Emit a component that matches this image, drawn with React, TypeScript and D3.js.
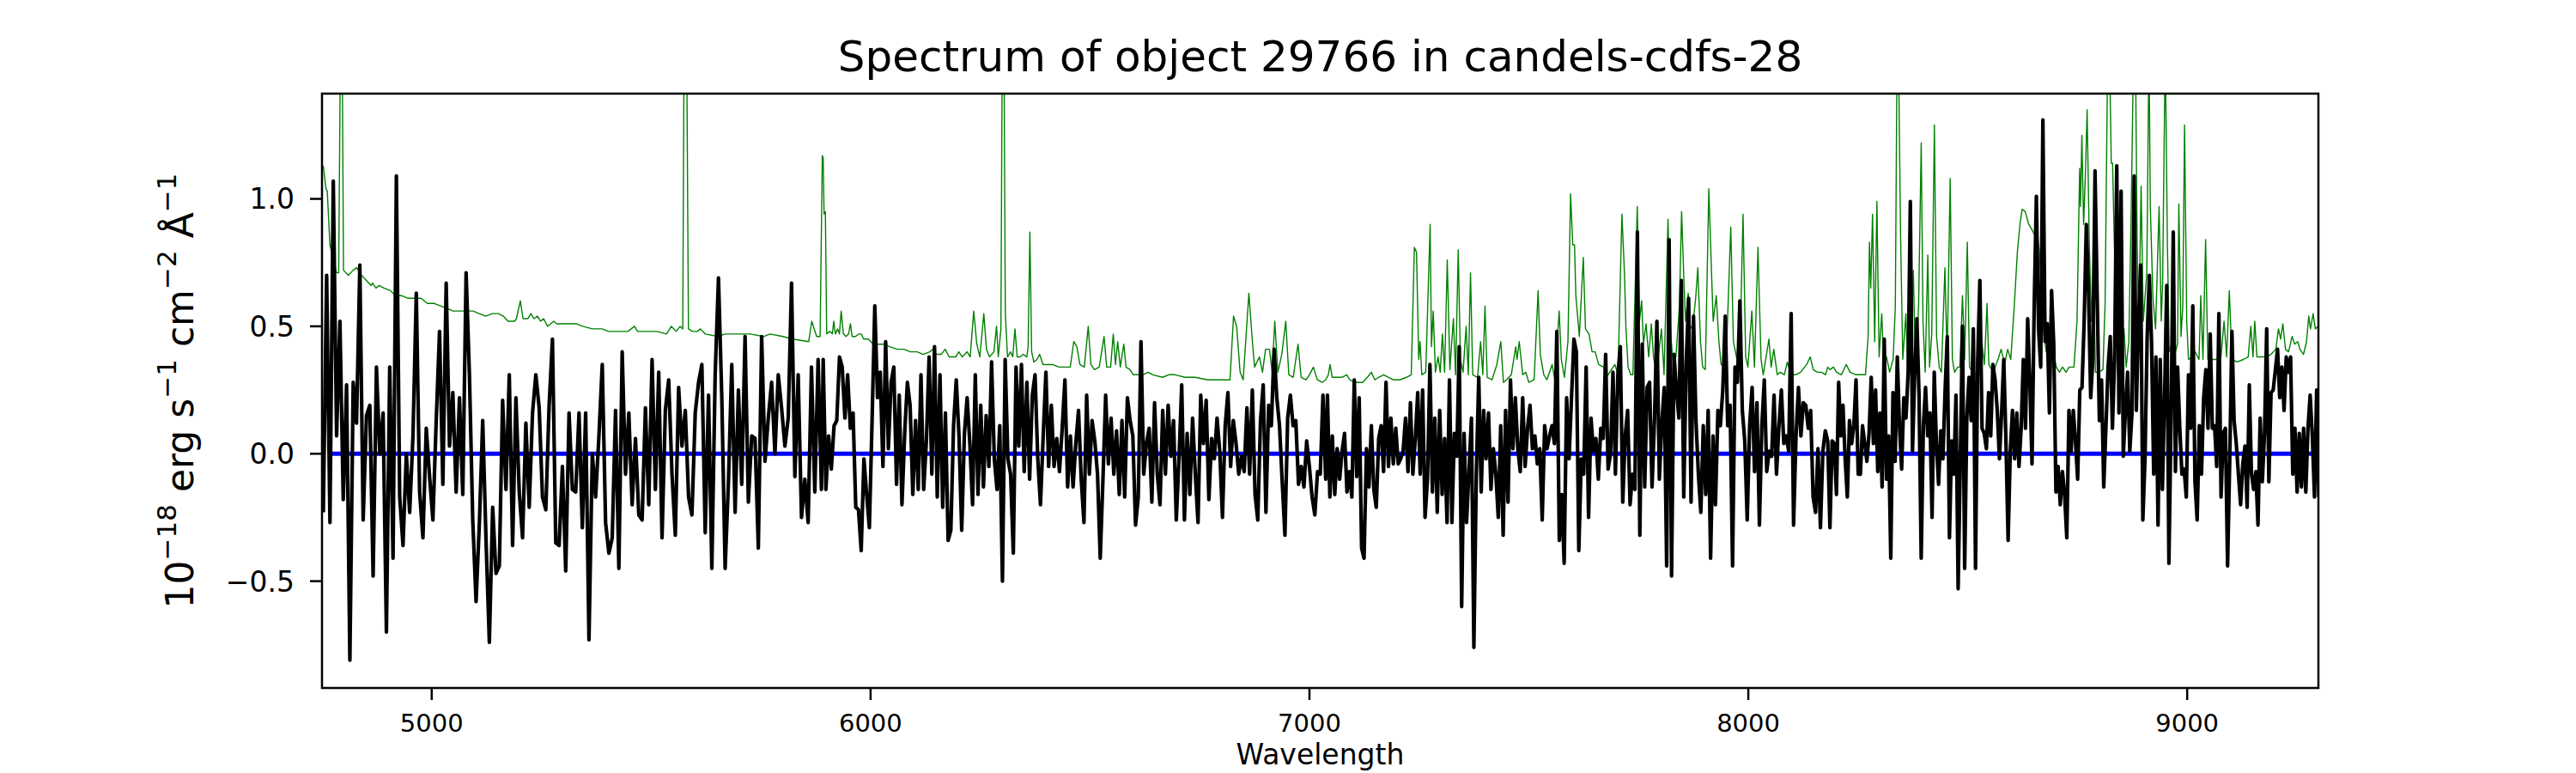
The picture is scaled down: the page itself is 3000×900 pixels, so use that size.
import React from 'react';
import * as d3 from 'd3';

// axis ticks
const wavelengthTicks = [5000, 6000, 7000, 8000, 9000];
const fluxTicks = [-0.5, 0.0, 0.5, 1.0];

const fluxSeg1Range = [4753, 5888];
const fluxSeg1 = [
  -0.23, 0.70, -0.27, 1.07, 0.07, 0.52, -0.18, 0.27, -0.81, 0.28, 0.12, 0.74, -0.26, 0.15, 0.19, -0.48, 0.34, 0.00, 0.16, -0.70,
  0.34, -0.41, 1.09, -0.17, -0.36, 0.00, -0.23, 0.07, 0.63, -0.15, -0.33, 0.10, -0.09, -0.26, 0.13, 0.48, -0.12, 0.67, 0.03, 0.24,
  -0.15, 0.22, -0.16, 0.71, 0.31, -0.26, -0.58, -0.27, 0.13, -0.34, -0.74, -0.21, -0.47, -0.44, 0.21, -0.14, 0.31, -0.36, 0.22, -0.15,
  -0.33, 0.12, -0.21, 0.16, 0.31, 0.18, -0.17, -0.22, 0.19, 0.45, -0.35, -0.36, -0.05, -0.46, 0.16, -0.14, -0.15, 0.16, -0.29, 0.16,
  -0.73, 0.00, -0.17, 0.07, 0.35, -0.27, -0.39, -0.33, 0.17, -0.45, 0.40, -0.08, 0.16, -0.20, 0.06, -0.24, -0.26, 0.18, -0.20, 0.37,
  -0.14, 0.32, -0.33, 0.17, 0.29, -0.08, -0.32, 0.26, 0.03, 0.17, -0.17, -0.24, 0.16, 0.28, 0.35, -0.31, 0.23, -0.45, 0.31, 0.69,
  0.22, -0.45, -0.11, 0.35, -0.23, 0.25, -0.12, 0.46, -0.19, 0.07, 0.06, -0.37, 0.46, -0.03, 0.14, 0.28, 0.00, 0.31, 0.18, 0.03,
  0.14, 0.67, -0.09, 0.31, -0.25, -0.10, -0.27, 0.34, -0.15, 0.37, -0.14,
];
const fluxSeg2Range = [5892, 7037];
const fluxSeg2 = [
  0.37, -0.14, 0.07, -0.06, 0.11, 0.13, 0.38, 0.34, 0.14, 0.31, 0.10, 0.16, -0.21, -0.22, -0.38, -0.02, -0.16, -0.29, 0.13, 0.58,
  0.22, 0.32, -0.05, 0.44, 0.02, 0.28, 0.34, -0.12, 0.23, -0.20, 0.08, 0.28, 0.19, -0.16, 0.13, -0.14, 0.31, -0.14, 0.05, 0.38,
  -0.08, 0.42, -0.17, 0.31, -0.21, 0.16, -0.34, -0.30, 0.11, 0.29, 0.07, -0.30, 0.08, 0.22, 0.04, -0.20, 0.31, -0.16, 0.19, -0.13,
  0.15, -0.05, 0.36, -0.02, -0.14, 0.11, -0.50, 0.37, -0.02, -0.08, -0.39, 0.34, 0.03, 0.35, -0.07, 0.28, -0.10, 0.23, 0.31, -0.02,
  -0.20, 0.07, 0.32, -0.05, 0.19, -0.05, 0.06, -0.07, 0.10, 0.29, -0.13, 0.07, -0.13, 0.04, 0.17, -0.10, -0.27, 0.23, -0.08, 0.13,
  0.05, -0.08, -0.41, -0.10, 0.23, -0.04, 0.14, -0.08, 0.09, -0.16, 0.13, -0.17, 0.22, 0.13, 0.07, -0.28, -0.17, 0.44, -0.08, 0.04,
  0.10, -0.19, 0.20, -0.08, -0.20, 0.17, -0.08, 0.19, -0.01, 0.13, -0.26, -0.02, 0.27, -0.26, 0.08, -0.16, 0.14, -0.08, -0.27, 0.23,
  0.04, 0.21, -0.18, 0.06, -0.02, 0.14, 0.01, -0.25, 0.11, 0.24, -0.05, 0.13, 0.04, -0.08, -0.01, -0.07, 0.18, -0.08, 0.25, -0.16,
  -0.26, 0.13, 0.27, -0.23, 0.19, 0.11, 0.41, 0.22, 0.11, -0.11, -0.32, 0.14, 0.23, 0.11, 0.13, -0.12, -0.05, -0.13, 0.05, -0.05,
  -0.17, -0.24, -0.07, -0.08, 0.23, -0.10,
];
const fluxSeg3Range = [7041, 8181];
const fluxSeg3 = [
  0.23, -0.17, 0.07, -0.16, 0.02, -0.10, 0.01, 0.08, -0.15, -0.07, -0.17, 0.29, -0.09, 0.22, -0.37, -0.41, 0.02, -0.13, 0.11, -0.14,
  -0.21, 0.06, 0.11, -0.07, 0.28, -0.05, 0.14, -0.04, 0.10, -0.04, -0.02, 0.01, 0.14, -0.07, 0.20, -0.08, 0.06, 0.24, -0.08, 0.25,
  -0.25, -0.10, 0.35, -0.15, 0.14, -0.23, 0.17, -0.16, 0.06, -0.27, 0.29, -0.27, 0.08, -0.01, 0.42, -0.60, 0.08, -0.27, -0.07, 0.14,
  -0.76, -0.08, 0.30, -0.15, 0.17, -0.02, 0.16, -0.14, 0.02, -0.08, -0.25, 0.11, -0.32, 0.17, -0.19, 0.29, 0.02, 0.22, 0.02, -0.07,
  0.22, -0.05, 0.10, 0.19, 0.02, 0.07, -0.04, 0.02, -0.26, 0.11, 0.02, 0.07, 0.11, 0.04, 0.48, -0.34, -0.16, -0.43, 0.22, -0.02,
  0.22, 0.45, 0.40, -0.38, -0.02, -0.08, 0.34, -0.25, 0.14, 0.01, 0.06, -0.10, 0.10, 0.06, 0.39, -0.06, 0.00, 0.32, -0.08, 0.31,
  0.42, -0.19, 0.07, 0.17, -0.20, -0.08, -0.14, 0.87, -0.32, 0.43, -0.13, 0.26, 0.28, -0.13, 0.13, 0.52, -0.10, 0.12, 0.26, -0.44,
  0.84, -0.48, 0.39, 0.25, 0.14, 0.68, -0.17, 0.36, 0.61, -0.19, 0.54, 0.13, -0.08, -0.23, 0.11, -0.16, 0.17, -0.41, 0.07, -0.20,
  0.17, 0.11, 0.25, 0.54, 0.11, 0.19, -0.44, 0.34, 0.28, 0.60, 0.17, 0.05, -0.26, 0.11, 0.26, -0.07, 0.20, -0.28, 0.11, 0.29,
  -0.07, 0.01, -0.01, 0.23, -0.08, 0.11, 0.25, 0.04, 0.07, 0.01, 0.55, -0.28, 0.07, 0.26, 0.07, 0.20, 0.19, 0.10, 0.17, -0.17,
  -0.23, 0.02, -0.29, 0.01, 0.09, 0.05,
];
const fluxSeg4Range = [8186, 9300];
const fluxSeg4 = [
  -0.29, 0.05, 0.04, -0.16, 0.28, 0.07, 0.19, -0.02, -0.17, 0.13, 0.04, 0.11, 0.29, -0.08, -0.08, 0.11, 0.04, -0.03, 0.08, 0.30,
  0.04, 0.25, -0.07, 0.16, -0.13, 0.45, -0.10, 0.07, -0.41, 0.24, -0.03, 0.38, 0.11, -0.06, 0.22, 0.14, 0.32, 0.99, 0.01, 0.31,
  0.53, 0.23, -0.41, 0.11, 0.26, 0.07, 0.16, -0.25, 0.32, 0.04, -0.12, 0.09, -0.02, 0.25, 0.46, -0.33, 0.05, -0.08, 0.23, -0.53,
  -0.02, 0.50, -0.45, 0.14, 0.30, 0.13, 0.49, -0.45, 0.37, 0.68, 0.10, 0.08, 0.02, 0.24, 0.07, 0.35, 0.29, 0.17, -0.02, 0.16,
  0.37, 0.05, -0.34, 0.01, 0.17, -0.02, 0.16, -0.05, 0.10, 0.37, 0.10, 0.53, 0.28, -0.04, 0.58, 1.01, 0.49, 0.34, 1.31, 0.44,
  0.51, 0.16, 0.64, 0.43, -0.15, -0.05, -0.20, -0.07, -0.16, -0.33, 0.17, 0.01, 0.17, 0.05, -0.10, 0.25, 0.26, 0.52, 0.90, 0.64,
  0.22, 0.37, 1.11, 0.61, 0.13, 0.29, -0.13, 0.10, 0.34, 0.46, 0.10, 0.37, 1.13, 0.16, 1.03, -0.01, 0.17, 0.32, 0.01, 0.16,
  1.09, 0.17, 0.52, 0.74, -0.26, -0.02, 0.46, 0.70, 0.44, -0.08, 0.38, -0.28, 0.37, -0.14, 0.22, 0.66, -0.43, 0.14, 0.87, -0.07,
  0.34, 0.10, -0.08, -0.06, -0.17, 0.31, 0.10, 0.58, -0.11, -0.26, 0.11, -0.08, 0.22, 0.33, 0.10, 0.47, 0.10, 0.11, -0.05, 0.55,
  -0.17, 0.08, 0.10, -0.44, -0.02, 0.48, 0.13, 0.04, -0.08, -0.20, -0.04, 0.03, -0.21, 0.27, -0.08, -0.14, -0.07, -0.28, 0.14, -0.11,
  0.08, 0.49, -0.11, 0.24, 0.25, 0.33, 0.41, 0.22, 0.34, 0.17, 0.38, 0.32, 0.38, -0.08, 0.10, -0.15, 0.08, -0.13, 0.10, -0.15,
  0.10, 0.23, 0.07, -0.17, 0.25, -0.17,
];

// noise / sky spectrum (green) as [wavelength, value]; 1.6 = line runs off the top
const noiseSpectrum: [number, number][] = [
  [4753, 1.13], [4759, 1.04], [4762, 1.03], [4768, 0.82], [4783, 0.71], [4788, 0.71], [4792, 1.6], [4796, 1.6], [4799, 0.72],
  [4810, 0.70], [4821, 0.72], [4829, 0.73], [4840, 0.70], [4851, 0.68], [4862, 0.66], [4865, 0.67], [4873, 0.65], [4880, 0.66],
  [4891, 0.65], [4906, 0.64], [4917, 0.62], [4932, 0.62], [4946, 0.61], [4961, 0.61], [4976, 0.61], [4990, 0.59], [5005, 0.59],
  [5020, 0.58], [5035, 0.57], [5049, 0.56], [5064, 0.56], [5079, 0.56], [5094, 0.56], [5108, 0.55], [5123, 0.54], [5138, 0.55],
  [5152, 0.55], [5163, 0.54], [5174, 0.52], [5182, 0.52], [5189, 0.52], [5193, 0.53], [5202, 0.60], [5208, 0.53], [5219, 0.53],
  [5226, 0.55], [5233, 0.53], [5241, 0.54], [5248, 0.52], [5255, 0.53], [5264, 0.50], [5278, 0.52], [5285, 0.51], [5300, 0.51],
  [5314, 0.51], [5329, 0.51], [5344, 0.50], [5366, 0.49], [5388, 0.49], [5403, 0.48], [5425, 0.48], [5447, 0.48], [5462, 0.50],
  [5469, 0.48], [5491, 0.48], [5513, 0.48], [5535, 0.47], [5546, 0.50], [5557, 0.48], [5566, 0.50], [5572, 0.49], [5575, 1.6],
  [5581, 1.6], [5585, 0.49], [5594, 0.48], [5605, 0.48], [5612, 0.49], [5623, 0.47], [5653, 0.46], [5668, 0.47], [5697, 0.47],
  [5726, 0.47], [5756, 0.46], [5771, 0.47], [5800, 0.46], [5822, 0.45], [5859, 0.44], [5866, 0.52], [5877, 0.46], [5885, 0.46],
  [5890, 1.17], [5892, 1.16], [5894, 0.94], [5897, 0.95], [5900, 0.47], [5907, 0.48], [5913, 0.47], [5916, 0.52], [5920, 0.47],
  [5925, 0.49], [5929, 0.47], [5933, 0.56], [5938, 0.47], [5944, 0.46], [5950, 0.47], [5954, 0.51], [5958, 0.46], [5966, 0.46],
  [5973, 0.47], [5979, 0.47], [5984, 0.45], [5995, 0.45], [6006, 0.43], [6017, 0.43], [6032, 0.43], [6043, 0.42], [6061, 0.41],
  [6076, 0.41], [6091, 0.40], [6106, 0.40], [6120, 0.39], [6135, 0.40], [6142, 0.41], [6150, 0.39], [6161, 0.39], [6170, 0.41],
  [6179, 0.38], [6194, 0.38], [6201, 0.40], [6209, 0.38], [6220, 0.40], [6227, 0.38], [6235, 0.56], [6242, 0.43], [6249, 0.38],
  [6258, 0.55], [6264, 0.41], [6271, 0.38], [6281, 0.40], [6287, 0.50], [6291, 0.38], [6297, 0.49], [6300, 1.6], [6304, 1.6],
  [6307, 0.55], [6312, 0.38], [6319, 0.40], [6324, 0.38], [6329, 0.49], [6334, 0.38], [6341, 0.38], [6348, 0.39], [6356, 0.38],
  [6359, 0.42], [6363, 0.87], [6367, 0.40], [6372, 0.36], [6379, 0.37], [6385, 0.39], [6393, 0.35], [6400, 0.35], [6415, 0.35],
  [6429, 0.34], [6444, 0.34], [6455, 0.34], [6463, 0.44], [6470, 0.42], [6477, 0.35], [6487, 0.34], [6496, 0.50], [6502, 0.35],
  [6510, 0.33], [6521, 0.34], [6532, 0.46], [6538, 0.34], [6547, 0.34], [6553, 0.47], [6558, 0.35], [6563, 0.44], [6569, 0.34],
  [6577, 0.43], [6582, 0.34], [6591, 0.33], [6599, 0.31], [6610, 0.31], [6621, 0.31], [6632, 0.32], [6643, 0.31], [6665, 0.30],
  [6680, 0.31], [6694, 0.31], [6716, 0.30], [6739, 0.30], [6768, 0.29], [6797, 0.29], [6819, 0.29], [6827, 0.54], [6834, 0.50],
  [6842, 0.32], [6849, 0.29], [6862, 0.63], [6870, 0.44], [6875, 0.34], [6886, 0.38], [6893, 0.32], [6900, 0.41], [6909, 0.41],
  [6915, 0.32], [6921, 0.52], [6928, 0.32], [6937, 0.39], [6946, 0.52], [6953, 0.31], [6963, 0.30], [6974, 0.43], [6981, 0.30],
  [6992, 0.29], [7000, 0.31], [7009, 0.34], [7018, 0.29], [7029, 0.28], [7037, 0.29], [7043, 0.31], [7047, 0.35], [7052, 0.30],
  [7063, 0.30], [7074, 0.30], [7085, 0.31], [7092, 0.29], [7103, 0.28], [7121, 0.28], [7132, 0.30], [7141, 0.32], [7149, 0.29],
  [7158, 0.30], [7169, 0.31], [7180, 0.30], [7191, 0.29], [7206, 0.29], [7221, 0.30], [7232, 0.31], [7239, 0.81], [7244, 0.79],
  [7249, 0.37], [7252, 0.44], [7256, 0.31], [7265, 0.32], [7275, 0.90], [7278, 0.42], [7282, 0.56], [7287, 0.32], [7293, 0.38],
  [7298, 0.32], [7303, 0.47], [7308, 0.32], [7314, 0.76], [7320, 0.33], [7328, 0.53], [7333, 0.31], [7339, 0.80], [7344, 0.37],
  [7350, 0.32], [7357, 0.50], [7362, 0.31], [7367, 0.71], [7372, 0.31], [7383, 0.30], [7390, 0.44], [7395, 0.31], [7400, 0.58],
  [7405, 0.30], [7416, 0.29], [7427, 0.35], [7436, 0.44], [7442, 0.28], [7449, 0.29], [7460, 0.31], [7470, 0.42], [7473, 0.37],
  [7478, 0.44], [7486, 0.31], [7493, 0.32], [7500, 0.28], [7512, 0.29], [7521, 0.64], [7526, 0.39], [7534, 0.31], [7541, 0.29],
  [7553, 0.35], [7559, 0.29], [7569, 0.56], [7574, 0.37], [7581, 0.30], [7589, 0.44], [7595, 1.02], [7600, 0.82], [7604, 0.82],
  [7607, 0.62], [7615, 0.46], [7624, 0.77], [7629, 0.49], [7637, 0.47], [7644, 0.40], [7651, 0.40], [7659, 0.35], [7670, 0.34],
  [7677, 0.30], [7684, 0.32], [7696, 0.35], [7703, 0.31], [7712, 0.94], [7718, 0.70], [7721, 0.50], [7726, 0.34], [7732, 0.31],
  [7737, 0.31], [7747, 0.97], [7752, 0.52], [7757, 0.60], [7761, 0.43], [7767, 0.51], [7773, 0.38], [7779, 0.51], [7784, 0.38],
  [7788, 0.34], [7795, 0.38], [7802, 0.49], [7808, 0.31], [7817, 0.92], [7823, 0.47], [7828, 0.37], [7835, 0.38], [7843, 0.58],
  [7848, 0.95], [7854, 0.64], [7857, 0.52], [7863, 0.63], [7868, 0.49], [7874, 0.51], [7880, 0.61], [7885, 0.73], [7891, 0.44],
  [7896, 0.34], [7902, 0.33], [7910, 1.04], [7916, 0.72], [7920, 0.52], [7927, 0.62], [7933, 0.44], [7938, 0.35], [7949, 0.34],
  [7960, 0.89], [7966, 0.44], [7973, 0.38], [7980, 0.34], [7988, 0.94], [7994, 0.38], [7999, 0.34], [8008, 0.56], [8014, 0.34],
  [8022, 0.81], [8029, 0.37], [8034, 0.31], [8047, 0.45], [8052, 0.34], [8058, 0.41], [8066, 0.31], [8073, 0.32], [8082, 0.31],
  [8089, 0.36], [8097, 0.31], [8108, 0.31], [8119, 0.32], [8133, 0.35], [8141, 0.38], [8148, 0.33], [8157, 0.32], [8167, 0.32],
  [8176, 0.31], [8181, 0.34], [8186, 0.33], [8194, 0.34], [8201, 0.32], [8212, 0.31], [8223, 0.35], [8232, 0.32], [8245, 0.31],
  [8260, 0.31], [8267, 0.31], [8273, 0.46], [8276, 0.83], [8279, 0.65], [8283, 0.94], [8288, 0.44], [8293, 0.99], [8298, 0.38],
  [8304, 0.55], [8309, 0.34], [8315, 0.38], [8322, 0.32], [8330, 0.37], [8335, 0.58], [8339, 1.6], [8342, 1.6], [8347, 0.85],
  [8352, 0.37], [8359, 0.55], [8363, 0.34], [8370, 0.37], [8376, 0.72], [8381, 0.32], [8388, 0.58], [8394, 1.22], [8398, 0.52],
  [8403, 0.32], [8409, 0.78], [8413, 0.34], [8418, 0.47], [8424, 1.29], [8429, 0.46], [8435, 0.34], [8440, 0.32], [8448, 0.73],
  [8453, 0.37], [8460, 1.08], [8465, 0.37], [8470, 0.32], [8477, 0.34], [8482, 0.34], [8488, 0.62], [8493, 0.37], [8499, 0.83],
  [8504, 0.34], [8514, 0.31], [8525, 0.32], [8532, 0.44], [8538, 0.35], [8544, 0.59], [8548, 0.35], [8558, 0.32], [8569, 0.37],
  [8576, 0.41], [8584, 0.35], [8591, 0.41], [8598, 0.37], [8606, 0.58], [8613, 0.79], [8619, 0.90], [8624, 0.96], [8631, 0.95],
  [8639, 0.90], [8646, 0.88], [8652, 0.86], [8657, 0.87], [8663, 0.80], [8668, 0.64], [8672, 0.49], [8679, 0.40], [8687, 0.37],
  [8694, 0.40], [8702, 0.34], [8709, 0.32], [8716, 0.34], [8724, 0.32], [8731, 0.34], [8742, 0.34], [8749, 0.52], [8755, 1.12],
  [8757, 0.97], [8760, 1.25], [8764, 0.90], [8768, 1.09], [8772, 1.35], [8777, 0.82], [8782, 0.52], [8786, 0.76], [8791, 0.32],
  [8799, 0.32], [8808, 0.33], [8813, 0.59], [8819, 1.6], [8823, 1.6], [8827, 1.14], [8830, 1.14], [8834, 0.82], [8840, 0.52],
  [8845, 0.67], [8850, 0.37], [8856, 0.49], [8861, 0.34], [8867, 0.44], [8872, 0.90], [8878, 1.6], [8882, 1.6], [8886, 0.82],
  [8890, 0.49], [8895, 1.05], [8900, 0.52], [8908, 0.71], [8913, 1.6], [8916, 0.97], [8922, 0.61], [8928, 0.49], [8936, 0.97],
  [8941, 0.52], [8944, 0.67], [8950, 1.6], [8955, 0.82], [8959, 0.40], [8965, 0.43], [8970, 0.38], [8978, 0.43], [8981, 0.98],
  [8986, 0.46], [8990, 0.58], [8994, 1.29], [8999, 0.52], [9003, 0.37], [9011, 0.38], [9018, 0.40], [9027, 0.37], [9031, 0.62],
  [9036, 0.37], [9042, 0.84], [9047, 0.37], [9058, 0.37], [9066, 0.37], [9077, 0.38], [9084, 0.52], [9090, 0.38], [9096, 0.64],
  [9102, 0.37], [9114, 0.36], [9128, 0.37], [9139, 0.38], [9145, 0.50], [9150, 0.38], [9154, 0.52], [9159, 0.38], [9169, 0.38],
  [9180, 0.38], [9191, 0.39], [9202, 0.41], [9208, 0.49], [9213, 0.45], [9218, 0.51], [9224, 0.41], [9231, 0.40], [9239, 0.46],
  [9245, 0.43], [9252, 0.44], [9257, 0.41], [9265, 0.39], [9272, 0.44], [9277, 0.54], [9281, 0.49], [9287, 0.55], [9292, 0.49],
  [9298, 0.50],
];

// model (blue)
const modelSpectrum: [number, number][] = [[4771, 0], [9284, 0]];

const W = 3000;
const H = 900;
const left = 375;
const right = 2700;
const top = 109;
const bottom = 801;
const font = '"DejaVu Sans", sans-serif';

const fluxSegments = [
  { range: fluxSeg1Range, values: fluxSeg1 },
  { range: fluxSeg2Range, values: fluxSeg2 },
  { range: fluxSeg3Range, values: fluxSeg3 },
  { range: fluxSeg4Range, values: fluxSeg4 },
];

const App: React.FC = () => {
  const x = d3.scaleLinear().domain([4750, 9299]).range([left, right]);
  const y = d3.scaleLinear().domain([-0.919, 1.413]).range([bottom, top]);

  const line = d3
    .line<[number, number]>()
    .x((d) => x(d[0]))
    .y((d) => y(d[1]));

  const fluxPoints: [number, number][] = fluxSegments.flatMap(({ range, values }) => {
    const step = d3.scaleLinear().domain([0, values.length - 1]).range(range);
    return values.map((v, i) => [step(i), v] as [number, number]);
  });

  const fmt = (t: number) => t.toFixed(1).replace('-', '\u2212');

  return (
    <svg width={W} height={H} style={{ position: 'absolute', left: 0, top: 0, background: '#fff' }} fontFamily={font}>
      <defs>
        <clipPath id="plot-area">
          <rect x={left} y={top} width={right - left} height={bottom - top} />
        </clipPath>
      </defs>

      <g clipPath="url(#plot-area)" fill="none" strokeLinejoin="round">
        <path d={line(noiseSpectrum) ?? ''} stroke="#008000" strokeWidth={1.4} />
        <path d={line(modelSpectrum) ?? ''} stroke="#0000ff" strokeWidth={5} />
        <path d={line(fluxPoints) ?? ''} stroke="#000" strokeWidth={4.2} />
      </g>

      <rect x={left} y={top} width={right - left} height={bottom - top} fill="none" stroke="#000" strokeWidth={2.5} />

      {wavelengthTicks.map((t) => (
        <g key={t}>
          <line x1={x(t)} x2={x(t)} y1={bottom} y2={bottom + 14} stroke="#000" strokeWidth={2.5} />
          <text x={x(t)} y={852} fontSize={29} textAnchor="middle">
            {t}
          </text>
        </g>
      ))}

      {fluxTicks.map((t) => (
        <g key={t}>
          <line x1={left - 14} x2={left} y1={y(t)} y2={y(t)} stroke="#000" strokeWidth={2.5} />
          <text x={343} y={y(t)} dy="0.36em" fontSize={33} textAnchor="end">
            {fmt(t)}
          </text>
        </g>
      ))}

      <text x={(left + right) / 2} y={83} fontSize={50} textAnchor="middle">
        Spectrum of object 29766 in candels-cdfs-28
      </text>

      <text x={(left + right) / 2} y={890} fontSize={33} textAnchor="middle">
        Wavelength
      </text>

      <text transform={`translate(225,${(top + bottom) / 2}) rotate(-90)`} fontSize={44} textAnchor="middle">
        10
        <tspan fontSize={31} dy={-20}>{'\u221218'}</tspan>
        <tspan dy={20}> erg s</tspan>
        <tspan fontSize={31} dy={-20}>{'\u22121'}</tspan>
        <tspan dy={20}> cm</tspan>
        <tspan fontSize={31} dy={-20}>{'\u22122'}</tspan>
        <tspan dy={20}> Å</tspan>
        <tspan fontSize={31} dy={-20}>{'\u22121'}</tspan>
      </text>
    </svg>
  );
};

export default App;
